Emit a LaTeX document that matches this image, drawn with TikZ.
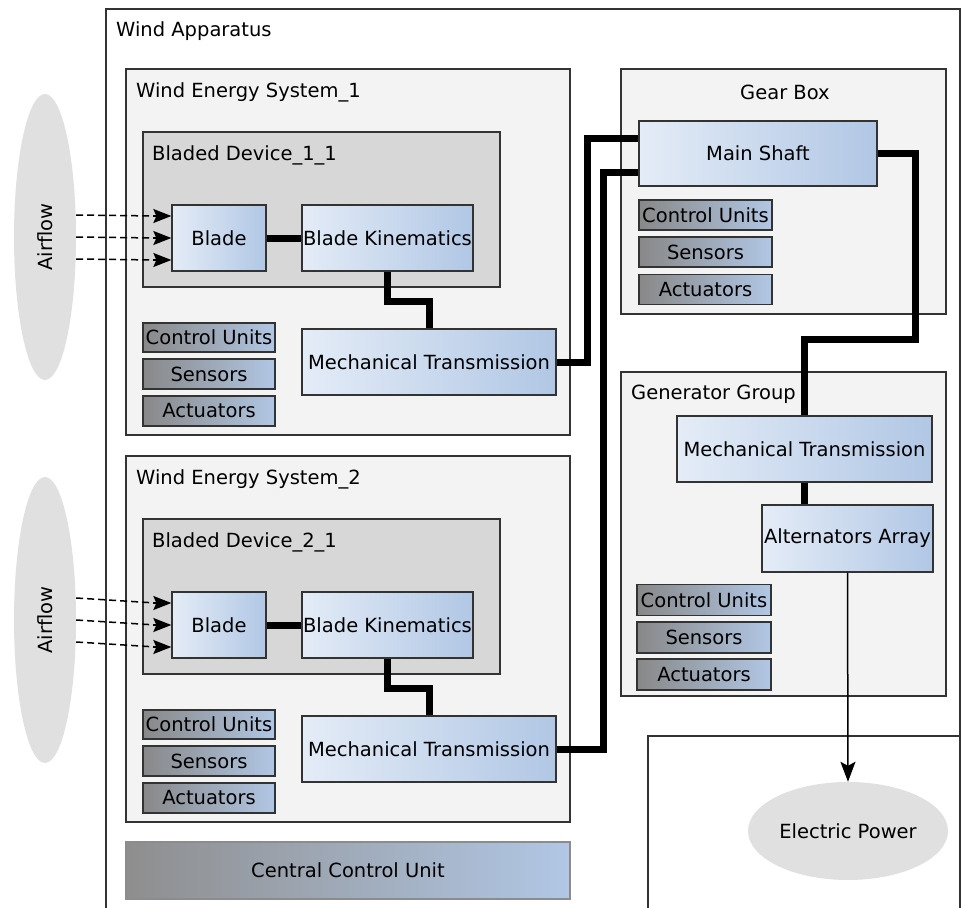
\documentclass[tikz,border=0pt]{standalone}
\usepackage{fontspec}
\setmainfont{DejaVu Sans}
\usetikzlibrary{calc,arrows.meta,shapes.geometric}
\definecolor{panelgray}{HTML}{F3F3F3}
\definecolor{devgray}{HTML}{D7D7D7}
\definecolor{ellgray}{HTML}{E0E0E0}
\definecolor{bluel}{HTML}{E4ECF7}
\definecolor{blued}{HTML}{B1C7E5}
\definecolor{grayl}{HTML}{888888}
\definecolor{edge}{HTML}{333333}
\tikzset{
  every node/.style={font=\fontsize{19.5}{23}\selectfont, inner sep=0pt},
  panel/.style={draw=edge, line width=1.3pt, fill=panelgray},
  devbox/.style={draw=edge, line width=1.3pt, fill=devgray},
  bluebox/.style={draw=edge, line width=1.3pt, left color=bluel, right color=blued},
  ctrlbox/.style={draw=edge, line width=1.3pt, left color=grayl, right color=blued},
  cenbox/.style={draw=black!45, line width=1.3pt, left color=grayl!95!white, right color=blued},
  cloud/.style={ellipse, fill=ellgray, draw=none},
  shaft/.style={line width=7pt, black, line join=miter},
  airdash/.style={line width=1.5pt, dash pattern=on 7pt off 4pt},
  airtip/.style={line width=1.5pt, -{Stealth[length=18pt,width=14pt,inset=3pt]}},
  power/.style={line width=1.5pt, -{Stealth[length=20pt,width=15pt,inset=4pt]}},
}
\begin{document}
\begin{tikzpicture}[x=1pt,y=-1pt]
\useasboundingbox (0,0) rectangle (962,908);
\clip (0,0) rectangle (962,908);
% outer apparatus
\draw[edge, line width=1.3pt, fill=white] (106,9) rectangle (960,930);
\node[anchor=west] (lWA) at (116,31) {Wind Apparatus};
\draw[edge, line width=1.3pt, fill=white] (648,736) rectangle (960,930);

% Airflow
\node[cloud, minimum width=62pt, minimum height=286pt] (Air1) at (45,237) {};
\node[rotate=90] (lAir1) at (Air1) {Airflow};
\node[cloud, minimum width=62pt, minimum height=286pt] (Air2) at (45,620) {};
\node[rotate=90] (lAir2) at (Air2) {Airflow};

% Wind Energy System 1
\node[panel, minimum width=444pt, minimum height=366pt] (WES1) at (348,252) {};
\node[anchor=west] (lWES1) at (136,92) {Wind Energy System\_1};
\node[devbox, minimum width=357pt, minimum height=155pt] (BD1) at (321.5,209.5) {};
\node[anchor=west] (lBD1) at (152,155) {Bladed Device\_1\_1};
\node[bluebox, minimum width=94pt, minimum height=66pt] (Blade1) at (219,238) {Blade};
\node[bluebox, minimum width=171pt, minimum height=66pt] (BK1) at (387.5,238) {Blade Kinematics};
\node[bluebox, minimum width=254pt, minimum height=66pt] (MT1) at (429,362) {Mechanical Transmission};
\node[ctrlbox, minimum width=132pt, minimum height=29pt] (CU1) at (209,337.5) {Control Units};
\node[ctrlbox, minimum width=132pt, minimum height=30pt] (S1) at (209,374) {Sensors};
\node[ctrlbox, minimum width=132pt, minimum height=30pt] (A1) at (209,411) {Actuators};

% Wind Energy System 2
\node[panel, minimum width=444pt, minimum height=366pt] (WES2) at (348,639) {};
\node[anchor=west] (lWES2) at (136,479) {Wind Energy System\_2};
\node[devbox, minimum width=357pt, minimum height=155pt] (BD2) at (321.5,596.5) {};
\node[anchor=west] (lBD2) at (152,542) {Bladed Device\_2\_1};
\node[bluebox, minimum width=94pt, minimum height=66pt] (Blade2) at (219,625) {Blade};
\node[bluebox, minimum width=171pt, minimum height=66pt] (BK2) at (387.5,625) {Blade Kinematics};
\node[bluebox, minimum width=254pt, minimum height=66pt] (MT2) at (429,749) {Mechanical Transmission};
\node[ctrlbox, minimum width=132pt, minimum height=29pt] (CU2) at (209,724.5) {Control Units};
\node[ctrlbox, minimum width=132pt, minimum height=30pt] (S2) at (209,761) {Sensors};
\node[ctrlbox, minimum width=132pt, minimum height=30pt] (A2) at (209,798) {Actuators};

% Central control unit
\node[cenbox, minimum width=444pt, minimum height=57pt] (CCU) at (348,870.5) {Central Control Unit};

% Gear box
\node[panel, minimum width=325pt, minimum height=245pt] (GB) at (783.5,191.5) {};
\node (lGB) at (785,92) {Gear Box};
\node[bluebox, minimum width=238pt, minimum height=65pt] (MS) at (758,153.5) {Main Shaft};
\node[ctrlbox, minimum width=133pt, minimum height=30pt] (CU3) at (705.5,215) {Control Units};
\node[ctrlbox, minimum width=133pt, minimum height=30pt] (S3) at (705.5,252) {Sensors};
\node[ctrlbox, minimum width=133pt, minimum height=30pt] (A3) at (705.5,289.5) {Actuators};

% Generator group
\node[panel, minimum width=325pt, minimum height=324pt] (GG) at (783.5,534) {};
\node[anchor=west] (lGG) at (631,394) {Generator Group};
\node[bluebox, minimum width=255pt, minimum height=66pt] (MT3) at (804.5,449) {Mechanical Transmission};
\node[bluebox, minimum width=171pt, minimum height=67pt] (AA) at (847.5,538.5) {Alternators Array};
\node[ctrlbox, minimum width=134pt, minimum height=31pt] (CU4) at (704,600) {Control Units};
\node[ctrlbox, minimum width=134pt, minimum height=31pt] (S4) at (704,637.5) {Sensors};
\node[ctrlbox, minimum width=134pt, minimum height=31pt] (A4) at (704,674.5) {Actuators};

% Electric power
\node[cloud, minimum width=200pt, minimum height=98pt] (EP) at (848,831) {Electric Power};

% shafts
\draw[shaft] (Blade1.east) -- (BK1.west);
\draw[shaft] (Blade2.east) -- (BK2.west);
\draw[shaft] (BK1.south) |- ($(MT1.north)+(0,-27)$) -- (MT1.north);
\draw[shaft] (BK2.south) |- ($(MT2.north)+(0,-27)$) -- (MT2.north);
\draw[shaft] (MT1.east) -| ($(MS.west)+(-51,-15.5)$) -- ($(MS.west)+(0,-15.5)$);
\draw[shaft] (MT2.east) -| ($(MS.west)+(-35,18.5)$) -- ($(MS.west)+(0,18.5)$);
\draw[shaft] (MS.east) -- ++(38,0) |- ($(MT3.north)+(0,-76)$) -- (MT3.north);
\draw[shaft] (MT3.south) -- (MT3.south |- AA.north);

% airflow arrows
\foreach \d in {-22,0,22} {
  \draw[airdash] ($(Air1.east)+(0,\d)$) -- ($(Blade1.west)+(-15,\d)$);
  \draw[airtip] ($(Blade1.west)+(-18,\d)$) -- ($(Blade1.west)+(0,\d)$);
  \draw[airdash] ($(Air2.east)+(0,\d)$) -- ($(Blade2.west)+(-15,\d)$);
  \draw[airtip] ($(Blade2.west)+(-18,\d)$) -- ($(Blade2.west)+(0,\d)$);
}
% power
\draw[power] (AA.south) -- (EP.north);
\end{tikzpicture}
\end{document}
